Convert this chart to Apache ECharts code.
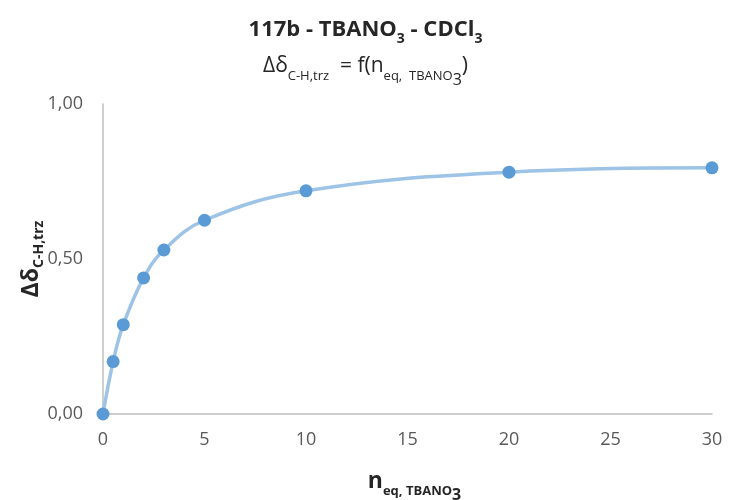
<!DOCTYPE html>
<html>
<head>
<meta charset="utf-8">
<script src="https://cdn.jsdelivr.net/npm/echarts@6/dist/echarts.min.js"></script>
<style>
html,body{margin:0;padding:0;background:#fff;}
#c{width:731px;height:500px;}
</style>
</head>
<body>
<div id="c"></div>
<script>
var xValues = [0, 0.5, 1, 2, 3, 5, 10, 20, 30];
var yValues = [0, 0.169, 0.288, 0.439, 0.529, 0.625, 0.72, 0.78, 0.794];
var xTicks = [0, 5, 10, 15, 20, 25, 30];
var yTicks = [0, 0.5, 1];

var pts = xValues.map(function (x, i) { return [x, yValues[i]]; });
var FONT = 'Open Sans';
var TXT = '#262626';

function tok(size, weight, padTop) {
  return { fontFamily: FONT, fontWeight: weight, fontSize: size, color: TXT,
           verticalAlign: 'top', padding: [padTop, 0, 0, 0] };
}

var chart = echarts.init(document.getElementById('c'));
chart.setOption({
  backgroundColor: '#fff',
  animation: false,
  title: [{
    left: 'center',
    top: 14,
    text: '{a|117b - TBANO}{s|3}{a| - CDCl}{s|3}',
    textStyle: {
      rich: { a: tok(22, 'bold', 0), s: tok(14, 'bold', 13) }
    }
  }, {
    left: 'center',
    top: 51,
    text: '{a|Δδ}{s|C-H,trz}{a|  = f(n}{s|eq,  TBANO}{t|3}{a|)}',
    textStyle: {
      fontWeight: 'normal',
      rich: { a: tok(21, 'normal', 0), s: tok(13, 'normal', 14), t: tok(16, 'normal', 16) }
    }
  }],
  grid: { left: 103, right: 19, top: 104, bottom: 86, containLabel: false, outerBoundsMode: 'none' },
  xAxis: {
    type: 'value', min: 0, max: 30, interval: 5,
    name: '{a|n}{s|eq, TBANO}{t|3}',
    nameLocation: 'middle', nameGap: 56, nameMoveOverlap: false,
    nameTextStyle: {
      padding: [0, 0, 0, 14],
      rich: { a: tok(23, 'bold', 0), s: tok(13, 'bold', 15), t: tok(16, 'bold', 17) }
    },
    axisLine: { show: true, lineStyle: { color: '#BFBFBF', width: 1.5 } },
    axisTick: { show: false },
    splitLine: { show: false },
    axisLabel: { color: '#595959', fontFamily: FONT, fontSize: 18, margin: 17,
      formatter: function (v) { return xTicks.indexOf(v) >= 0 ? String(v) : ''; } }
  },
  yAxis: {
    type: 'value', min: 0, max: 1, interval: 0.5,
    name: '{a|Δδ}{s|C-H,trz}',
    nameLocation: 'middle', nameGap: 57, nameRotate: 90, nameMoveOverlap: false,
    nameTextStyle: {
      rich: { a: tok(23, 'bold', 0), s: tok(14, 'bold', 12) }
    },
    axisLine: { show: true, lineStyle: { color: '#BFBFBF', width: 1.5 } },
    axisTick: { show: false },
    splitLine: { show: false },
    axisLabel: { color: '#595959', fontFamily: FONT, fontSize: 18, margin: 20,
      formatter: function (v) { return yTicks.indexOf(v) >= 0 ? v.toFixed(2).replace('.', ',') : ''; } }
  },
  series: [{
    type: 'line',
    data: pts,
    smooth: 0.4,
    showSymbol: false,
    lineStyle: { color: '#9DC3E6', width: 3.5 },
    z: 2
  }, {
    type: 'scatter',
    data: pts,
    symbolSize: 13,
    itemStyle: { color: '#5B9BD5', opacity: 1 },
    z: 3
  }]
});
</script>
</body>
</html>
